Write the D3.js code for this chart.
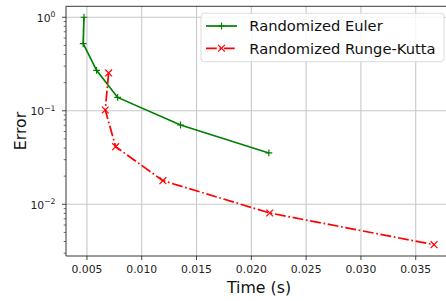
<!DOCTYPE html>
<html><head><meta charset="utf-8">
<script src="https://cdn.jsdelivr.net/npm/d3@7"></script>
<style>html,body{margin:0;background:#fff;overflow:hidden}svg{display:block;font-family:"DejaVu Sans",sans-serif}</style>
</head><body><svg id="c" width="446" height="301"></svg>
<script>
const eulerTime = [0.00473, 0.00466, 0.00588, 0.0078, 0.01354, 0.0216];
const eulerErr  = [1.0, 0.522, 0.271, 0.139, 0.0705, 0.0354];
const rkTime = [0.00698, 0.00667, 0.00762, 0.01193, 0.02168, 0.03667];
const rkErr  = [0.254, 0.102, 0.0413, 0.0179, 0.00807, 0.0037];
const xTicks = [0.005, 0.010, 0.015, 0.020, 0.025, 0.030, 0.035];
const yMajor = [1, 0.1, 0.01];
const yMajorExp = ["0", "\u22121", "\u22122"];
const seriesNames = ["Randomized Euler", "Randomized Runge-Kutta"];

const svg = d3.select("#c");
const L = 66, R = 452, T = 6.3, B = 256;
const x = d3.scaleLinear().domain([0.00309, 0.03831]).range([L, R]);
const y = d3.scaleLog().domain([0.0028, 1.31]).range([B, T]);

const g = svg.append("g");
// grid
g.selectAll(".gx").data(xTicks).enter().append("line")
  .attr("x1", d => x(d)).attr("x2", d => x(d)).attr("y1", T).attr("y2", B)
  .attr("stroke", "#c8c8c8").attr("stroke-width", 1.1);
g.selectAll(".gy").data(yMajor).enter().append("line")
  .attr("x1", L).attr("x2", R).attr("y1", d => y(d)).attr("y2", d => y(d))
  .attr("stroke", "#c8c8c8").attr("stroke-width", 1.1);

// minor y ticks
const minor = [];
[0.001, 0.01, 0.1].forEach(b => { for (let k = 2; k <= 9; k++) { const v = b * k; if (v >= 0.0028 && v <= 1.31) minor.push(v); } });
g.selectAll(".my").data(minor).enter().append("line")
  .attr("x1", L - 2.3).attr("x2", L).attr("y1", d => y(d)).attr("y2", d => y(d))
  .attr("stroke", "#333").attr("stroke-width", 0.7);
g.selectAll(".My").data(yMajor).enter().append("line")
  .attr("x1", L - 4).attr("x2", L).attr("y1", d => y(d)).attr("y2", d => y(d))
  .attr("stroke", "#333").attr("stroke-width", 0.9);
g.selectAll(".Mx").data(xTicks).enter().append("line")
  .attr("x1", d => x(d)).attr("x2", d => x(d)).attr("y1", B).attr("y2", B + 4)
  .attr("stroke", "#333").attr("stroke-width", 0.9);

// tick labels
g.selectAll(".xl").data(xTicks).enter().append("text")
  .attr("x", d => x(d)).attr("y", 273).attr("text-anchor", "middle")
  .attr("font-size", 10.8).attr("fill", "#222").text(d => d3.format(".3f")(d));
const yl = g.selectAll(".yl").data(yMajor).enter().append("text")
  .attr("x", 55.5).attr("y", d => y(d) + 4.5).attr("text-anchor", "end")
  .attr("font-size", 10.8).attr("fill", "#222");
yl.append("tspan").text("10");
yl.append("tspan").attr("dy", -4.5).attr("font-size", 7.7).text((d, i) => yMajorExp[i]);

// axis labels
svg.append("text").attr("x", 259).attr("y", 293).attr("text-anchor", "middle")
  .attr("font-size", 15.8).attr("fill", "#111").text("Time (s)");
svg.append("text").attr("transform", "translate(25.5,131) rotate(-90)").attr("text-anchor", "middle")
  .attr("font-size", 15.8).attr("fill", "#111").text("Error");

// lines
const line = d3.line().x(d => x(d[0])).y(d => y(d[1]));
const eData = eulerTime.map((t, i) => [t, eulerErr[i]]);
const rData = rkTime.map((t, i) => [t, rkErr[i]]);
svg.append("path").datum(eData).attr("d", line).attr("fill", "none")
  .attr("stroke", "#008000").attr("stroke-width", 1.7);
svg.append("path").datum(rData).attr("d", line).attr("fill", "none")
  .attr("stroke", "#ff0000").attr("stroke-width", 1.7).attr("stroke-dasharray", "10.8,2.7,1.7,2.7");

const ms = 3.4;
function plus(sel, cx, cy, col) {
  sel.append("path").attr("d", `M${cx - ms},${cy}H${cx + ms}M${cx},${cy - ms}V${cy + ms}`)
    .attr("stroke", col).attr("stroke-width", 1.2).attr("fill", "none");
}
function cross(sel, cx, cy, col) {
  sel.append("path").attr("d", `M${cx - ms},${cy - ms}L${cx + ms},${cy + ms}M${cx - ms},${cy + ms}L${cx + ms},${cy - ms}`)
    .attr("stroke", col).attr("stroke-width", 1.2).attr("fill", "none");
}
eData.forEach(d => plus(svg, x(d[0]), y(d[1]), "#008000"));
rData.forEach(d => cross(svg, x(d[0]), y(d[1]), "#ff0000"));

// spines (right spine lies outside the visible area)
svg.append("path").attr("d", `M${R},${T}H${L}V${B}H${R}`)
  .attr("fill", "none").attr("stroke", "#222").attr("stroke-width", 0.9);

// legend
const lg = svg.append("g");
lg.append("rect").attr("x", 201).attr("y", 13.3).attr("width", 243).attr("height", 48.4).attr("rx", 3)
  .attr("fill", "rgba(255,255,255,0.85)").attr("stroke", "#d8d8d8").attr("stroke-width", 0.9);
const rows = [26, 48.3];
lg.append("line").attr("x1", 206).attr("x2", 237).attr("y1", rows[0]).attr("y2", rows[0])
  .attr("stroke", "#008000").attr("stroke-width", 1.7);
plus(lg, 221.5, rows[0], "#008000");
lg.append("line").attr("x1", 206).attr("x2", 237).attr("y1", rows[1]).attr("y2", rows[1])
  .attr("stroke", "#ff0000").attr("stroke-width", 1.7).attr("stroke-dasharray", "10.8,2.7,1.7,2.7");
cross(lg, 221.5, rows[1], "#ff0000");
lg.selectAll(".lt").data(seriesNames).enter().append("text")
  .attr("x", 249.3).attr("y", (d, i) => rows[i] + 5.3).attr("font-size", 14.7).attr("fill", "#111").text(d => d);
</script></body></html>
